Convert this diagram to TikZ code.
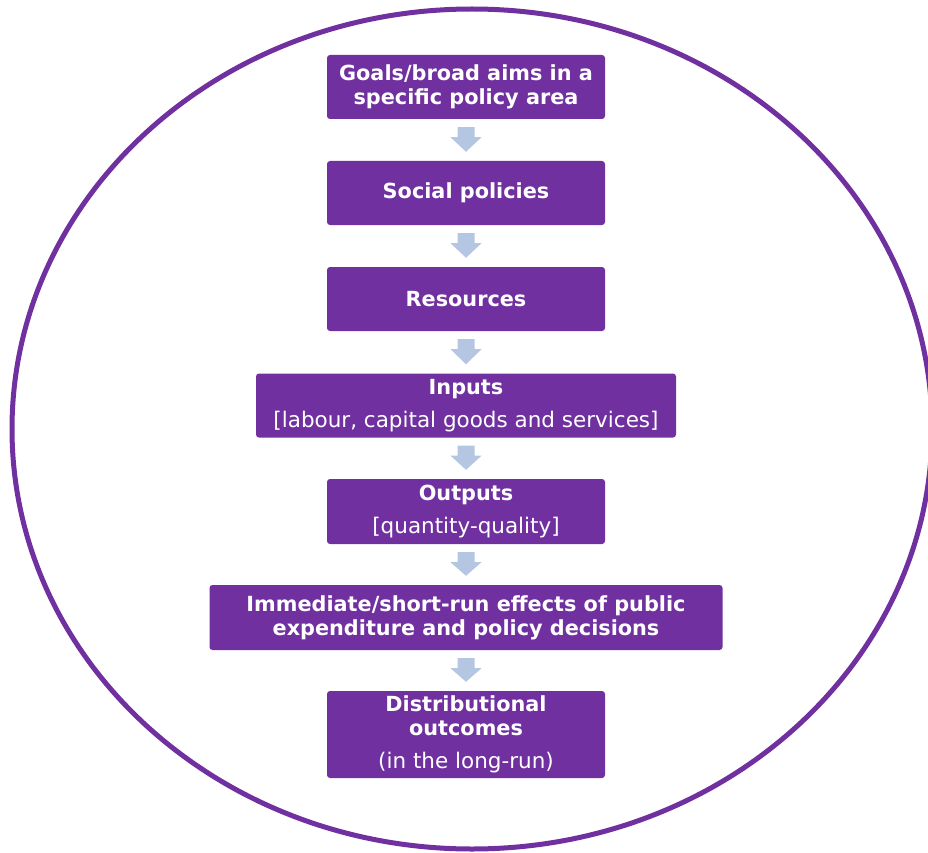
\documentclass[tikz,border=0pt]{standalone}
\usepackage{fontspec}
\setmainfont{DejaVu Sans}
\usetikzlibrary{calc}
\definecolor{policypurple}{HTML}{7030A0}
\definecolor{flowblue}{HTML}{B4C6E2}
\newcommand\plainline[1]{{\fontsize{21.5}{23.5}\selectfont #1}}
\tikzset{
  stagebox/.style={fill=policypurple, rounded corners=3pt, text=white,
    align=center, inner sep=0pt, minimum height=64pt,
    font=\fontsize{20.8}{24}\selectfont},
  flowarrow/.style={fill=flowblue, draw=none}
}
% block arrow from the bottom of one stage to the top of the next
\newcommand\stagearrow[2]{%
  \path[flowarrow]
    ($(#1.south)+(-8.5,8)$) -- ($(#1.south)+(8.5,8)$) --
    ($(#1.south)+(8.5,18)$) -- ($(#1.south)+(15.5,18)$) --
    ($(#2.north)+(0,-9)$) --
    ($(#1.south)+(-15.5,18)$) -- ($(#1.south)+(-8.5,18)$) -- cycle;}
\begin{document}
\begin{tikzpicture}[x=1pt,y=-1pt]
  \useasboundingbox (0,0) rectangle (928,853);
  \begin{scope}
    \clip (0,0) rectangle (928,853);
    \draw[policypurple, line width=5pt] (472,429) ellipse [x radius=460, y radius=420];
  \end{scope}

  \node[stagebox, minimum width=278pt] (goals) at (466,87)
    {\textbf{Goals/broad aims in a}\\\textbf{specific policy area}};
  \node[stagebox, minimum width=278pt] (social) at (466,193)
    {\textbf{Social policies}};
  \node[stagebox, minimum width=278pt] (resources) at (466,299)
    {\textbf{Resources}};
  \node[stagebox, minimum width=420pt] (inputs) at (466,405.5)
    {\textbf{Inputs}\\[9pt]\plainline{[labour, capital goods and services]}};
  \node[stagebox, minimum width=278pt, minimum height=65pt] (outputs) at (466,511.5)
    {\textbf{Outputs}\\[9pt]\plainline{[quantity-quality]}};
  \node[stagebox, minimum width=513pt, minimum height=65pt] (effects) at (466,617.5)
    {\textbf{Immediate/short-run effects of public}\\\textbf{expenditure and policy decisions}};
  \node[stagebox, minimum width=278pt, minimum height=87pt] (outcomes) at (466,734.5)
    {\textbf{Distributional}\\\textbf{outcomes}\\[9pt]\plainline{(in the long-run)}};

  \stagearrow{goals}{social}
  \stagearrow{social}{resources}
  \stagearrow{resources}{inputs}
  \stagearrow{inputs}{outputs}
  \stagearrow{outputs}{effects}
  \stagearrow{effects}{outcomes}
\end{tikzpicture}
\end{document}
